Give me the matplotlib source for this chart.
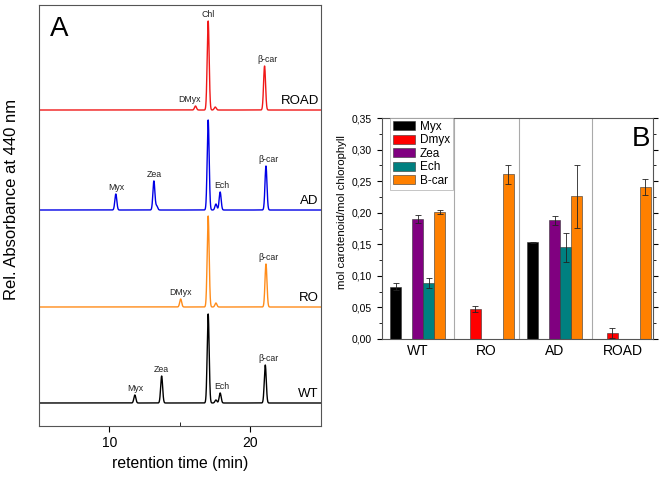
import numpy as np
import matplotlib
matplotlib.use("Agg")
import matplotlib.pyplot as plt
from matplotlib.ticker import MultipleLocator, FuncFormatter
from matplotlib.patches import Patch

plt.rcParams['font.family'] = ['Liberation Sans', 'DejaVu Sans']

# ---- panel A: HPLC peak tables (retention time, relative height) ----
strains = ['WT', 'RO', 'AD', 'ROAD']
trace_colors = ['black', '#ff8c1a', '#0000e6', '#f01818']
baselines = [23, 119, 216, 316]

wt_rt = [11.8, 13.7, 17.0, 17.55, 17.85, 21.05]
wt_h = [8, 27, 89, 3, 10, 38]
wt_lab = ['Myx', 'Zea', '', '', 'Ech', 'β-car']

ro_rt = [15.05, 17.0, 17.55, 21.1]
ro_h = [8, 91, 4, 43]
ro_lab = ['DMyx', '', '', 'β-car']

ad_rt = [10.45, 13.15, 13.35, 17.0, 17.55, 17.85, 21.1]
ad_h = [16, 29, 4, 90, 6, 18, 44]
ad_lab = ['Myx', 'Zea', '', '', '', 'Ech', 'β-car']

road_rt = [16.1, 17.0, 17.5, 21.0]
road_h = [4, 89, 3, 44]
road_lab = ['DMyx', 'Chl', '', 'β-car']

peak_tables = [(wt_rt, wt_h, wt_lab), (ro_rt, ro_h, ro_lab),
               (ad_rt, ad_h, ad_lab), (road_rt, road_h, road_lab)]

# ---- panel B: carotenoid content ----
groups = ['WT', 'RO', 'AD', 'ROAD']
pigments = ['Myx', 'Dmyx', 'Zea', 'Ech', 'B-car']
pig_colors = ['black', '#ff0000', '#800080', '#008080', '#ff8000']
myx = [0.083, None, 0.153, None]
myx_err = [0.005, None, 0.001, None]
dmyx = [None, 0.047, None, 0.010]
dmyx_err = [None, 0.005, None, 0.008]
zea = [0.190, None, 0.188, None]
zea_err = [0.006, None, 0.007, None]
ech = [0.088, None, 0.145, None]
ech_err = [0.008, None, 0.023, None]
bcar = [0.201, 0.261, 0.226, 0.241]
bcar_err = [0.003, 0.015, 0.050, 0.013]

fig = plt.figure(figsize=(6.63, 4.78), dpi=100)

# panel A
axA = fig.add_axes([0.0588, 0.1088, 0.4253, 0.8807])
t = np.linspace(5, 25, 4001)
sig = 0.07
for (rt, h, lab), base, col, name in zip(peak_tables, baselines, trace_colors, strains):
    y = np.full_like(t, float(base))
    for r, hh in zip(rt, h):
        y += hh * np.exp(-0.5 * ((t - r) / sig) ** 2)
    axA.plot(t, y, color=col, lw=1.0)
    for r, hh, l in zip(rt, h, lab):
        if l:
            dx = 0.2 if l == 'β-car' else (-0.45 if (l == 'DMyx' and name == 'ROAD') else 0.1 if l == 'Ech' else 0)
            axA.text(r + dx, base + hh + 2, l, fontsize=6.3, ha='center', va='bottom', color='#222222')
    axA.text(24.85, base + 3, name, fontsize=9.5, ha='right', va='bottom')

axA.set_xlim(5, 25)
axA.set_ylim(0, 421)
axA.set_yticks([])
axA.xaxis.set_major_locator(MultipleLocator(10))
axA.xaxis.set_minor_locator(MultipleLocator(5))
axA.tick_params(axis='x', which='major', direction='out', length=4, labelsize=10)
axA.tick_params(axis='x', which='minor', direction='in', length=3)
axA.set_xlabel('retention time (min)', fontsize=11.3)
axA.set_ylabel('Rel. Absorbance at 440 nm', fontsize=12)
axA.yaxis.set_label_coords(-0.072, 0.537)
for s in axA.spines.values():
    s.set_color('#555555')
axA.text(0.04, 0.975, 'A', transform=axA.transAxes, fontsize=20, ha='left', va='top')

# panel B
axB = fig.add_axes([0.576, 0.2908, 0.4087, 0.4623])
w = 0.16
xg = np.arange(1, len(groups) + 1)
series = [(myx, myx_err), (dmyx, dmyx_err), (zea, zea_err), (ech, ech_err), (bcar, bcar_err)]
for i, ((vals, errs), col) in enumerate(zip(series, pig_colors)):
    xs, vs, es = [], [], []
    for x, v, e in zip(xg, vals, errs):
        if v is not None:
            xs.append(x + (i - 2) * w)
            vs.append(v)
            es.append(e)
    axB.bar(xs, vs, width=w, color=col, edgecolor='#333333', linewidth=0.4)
    axB.errorbar(xs, vs, yerr=es, fmt='none', ecolor='#222222', elinewidth=0.6, capsize=2.5, capthick=0.6)

for xs in [1.53, 2.48, 3.55]:
    axB.axvline(xs, color='#aaaaaa', lw=0.8)

axB.set_xlim(0.48, 4.43)
axB.set_ylim(0, 0.35)
axB.set_xticks(xg)
axB.set_xticklabels(groups, fontsize=10)
axB.tick_params(axis='x', length=0)
axB.yaxis.set_major_locator(MultipleLocator(0.05))
axB.yaxis.set_minor_locator(MultipleLocator(0.025))
axB.yaxis.set_major_formatter(FuncFormatter(lambda v, p: f"{v:.2f}".replace('.', ',')))
axB.tick_params(axis='y', which='major', direction='out', length=3.5, labelsize=7.5, right=True)
axB.tick_params(axis='y', which='minor', direction='out', length=2, right=True)
axB.set_ylabel('mol carotenoid/mol chlorophyll', fontsize=8.2)
axB.yaxis.set_label_coords(-0.128, 0.575)
for s in axB.spines.values():
    s.set_color('#555555')
axB.text(0.989, 0.965, 'B', transform=axB.transAxes, fontsize=20, ha='right', va='top')

handles = [Patch(facecolor=c, edgecolor='#333333', linewidth=0.4) for c in pig_colors]
leg = axB.legend(handles, pigments, loc='upper left', bbox_to_anchor=(0.03, 1.0), fontsize=8.5,
                 frameon=True, fancybox=False, handlelength=1.9, handleheight=0.8,
                 labelspacing=0.12, borderpad=0.25, handletextpad=0.4, borderaxespad=0.0)
leg.get_frame().set_edgecolor('#aaaaaa')
leg.get_frame().set_linewidth(0.6)

fig.savefig('out.png', dpi=100)
